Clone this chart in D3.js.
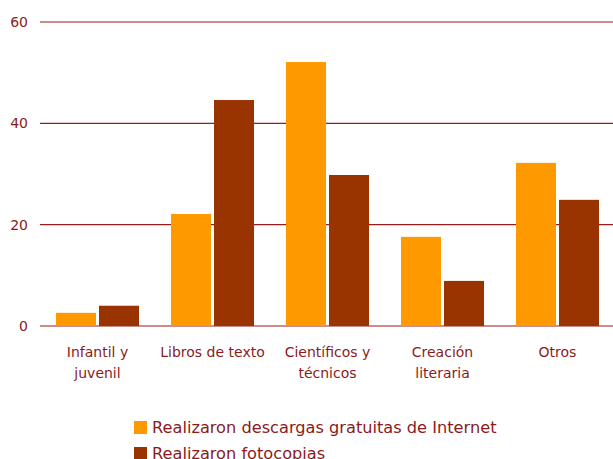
<!DOCTYPE html>
<html>
<head>
<meta charset="utf-8">
<script src="https://cdn.jsdelivr.net/npm/d3@7"></script>
<style>
  body { margin: 0; background: #fff; }
  text { font-family: "DejaVu Sans", sans-serif; fill: #8b1a1a; }
</style>
</head>
<body>
<div id="chart"></div>
<script>
// chart data
var categories = [["Infantil y", "juvenil"], ["Libros de texto"], ["Científicos y", "técnicos"], ["Creación", "literaria"], ["Otros"]];
var seriesNames = ["Realizaron descargas gratuitas de Internet", "Realizaron fotocopias"];
var descargas = [2.6, 22.1, 52.1, 17.6, 32.2];
var fotocopias = [4.0, 44.6, 29.8, 8.9, 24.9];
var yTicks = [0, 20, 40, 60];
var colors = ["#ff9900", "#993300"];

var width = 613, height = 459;
var margin = {top: 22, right: 0, bottom: 133, left: 40};

var svg = d3.select("#chart").append("svg")
  .attr("width", width)
  .attr("height", height);

var x0 = d3.scaleBand()
  .domain(d3.range(categories.length))
  .range([margin.left, width + 2])
  .paddingInner(0.278)
  .paddingOuter(0.139);

var x1 = d3.scaleBand()
  .domain([0, 1])
  .range([0, x0.bandwidth()])
  .paddingInner(0.07);

var y = d3.scaleLinear()
  .domain([0, 60])
  .range([height - margin.bottom, margin.top]);

// gridlines
svg.append("g").selectAll("line")
  .data(yTicks)
  .enter().append("line")
  .attr("x1", margin.left)
  .attr("x2", width - margin.right)
  .attr("y1", function(d) { return y(d); })
  .attr("y2", function(d) { return y(d); })
  .attr("stroke", "#9b1b1b")
  .attr("stroke-width", 1.2);

// y tick labels
svg.append("g").selectAll("text")
  .data(yTicks)
  .enter().append("text")
  .attr("x", 28)
  .attr("y", function(d) { return y(d) + 5; })
  .attr("text-anchor", "end")
  .style("font-size", "14px")
  .text(function(d) { return d; });

// bars
var series = [descargas, fotocopias];
series.forEach(function(vals, s) {
  svg.append("g").selectAll("rect")
    .data(vals)
    .enter().append("rect")
    .attr("x", function(d, i) { return x0(i) + x1(s); })
    .attr("y", function(d) { return y(d); })
    .attr("width", x1.bandwidth())
    .attr("height", function(d) { return y(0) - y(d); })
    .attr("fill", colors[s]);
});

// category labels
var labels = svg.append("g").selectAll("text")
  .data(categories)
  .enter().append("text")
  .attr("text-anchor", "middle")
  .style("font-size", "14px");

labels.selectAll("tspan")
  .data(function(d, i) { return d.map(function(t) { return {t: t, i: i}; }); })
  .enter().append("tspan")
  .attr("x", function(d) { return x0(d.i) + x0.bandwidth() / 2; })
  .attr("y", function(d, j) { return 357 + j * 21; })
  .text(function(d) { return d.t; });

// legend
var legend = svg.append("g").selectAll("g")
  .data(seriesNames)
  .enter().append("g")
  .attr("transform", function(d, i) { return "translate(134," + (421 + i * 26) + ")"; });

legend.append("rect")
  .attr("width", 13)
  .attr("height", 13)
  .attr("fill", function(d, i) { return colors[i]; });

legend.append("text")
  .attr("x", 18)
  .attr("y", 12)
  .style("font-size", "16.2px")
  .text(function(d) { return d; });
</script>
</body>
</html>
